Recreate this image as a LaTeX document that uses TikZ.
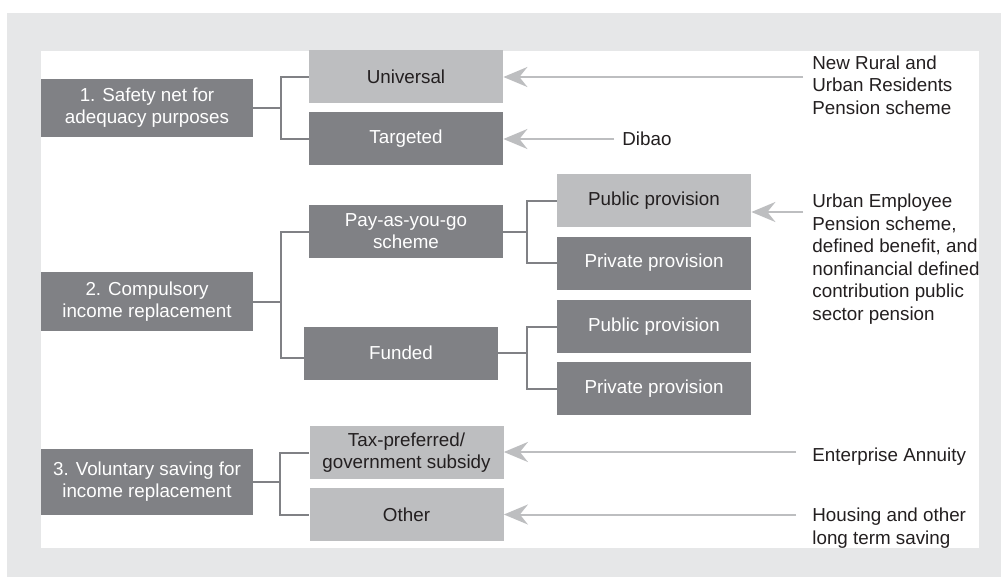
\documentclass[tikz,border=0pt]{standalone}
\usepackage{fontspec}
\setmainfont{Liberation Sans}
\usetikzlibrary{arrows.meta}
\definecolor{pnbg}{RGB}{230,231,232}
\definecolor{pndark}{RGB}{128,129,133}
\definecolor{pnlight}{RGB}{189,190,192}
\definecolor{pntext}{RGB}{35,31,32}
\tikzset{
  box/.style={inner sep=0pt, align=center, font=\fontsize{9.4}{11.1}\selectfont,
              minimum width=97pt, minimum height=26.5pt},
  dark/.style={box, fill=pndark, text=white},
  light/.style={box, fill=pnlight, text=pntext},
  pillar/.style={dark, minimum width=106pt, minimum height=29pt},
  link/.style={draw=pndark, line width=1pt},
  arr/.style={-{Stealth[length=12pt, width=10pt, inset=4pt]}, line width=1pt, draw=pnlight},
  lab/.style={anchor=base west, inner sep=0pt, align=left,
              font=\fontsize{9.4}{11.25}\selectfont, text=pntext}
}
\begin{document}
\begin{tikzpicture}[x=0.5pt, y=-0.5pt]
  \useasboundingbox (0,0) rectangle (1001,578);
  \fill[pnbg] (7,13) rectangle (1001,577);
  \fill[white] (41,51) rectangle (979,548);

  % pillars
  \node[pillar] (safety) at (147,108) {1. Safety net for\\adequacy purposes};
  \node[pillar, minimum height=29.5pt] (compul) at (147,301.5) {2. Compulsory\\income replacement};
  \node[pillar, minimum height=33pt] (volun) at (147,482) {3. Voluntary saving for\\income replacement};

  % second level
  \node[light] (univ) at (406,76.5) {Universal};
  \node[dark] (targ) at (406,138.5) {Targeted};
  \node[dark] (payg) at (406,231.5) {Pay-as-you-go\\scheme};
  \node[dark] (fund) at (401,353) {Funded};
  \node[light] (tax) at (406.5,452.5) {Tax-preferred/\\government subsidy};
  \node[light] (other) at (406.5,514.5) {Other};

  % third level
  \node[light] (pubA) at (654,200.5) {Public provision};
  \node[dark] (privA) at (654,263) {Private provision};
  \node[dark] (pubB) at (654,326.5) {Public provision};
  \node[dark] (privB) at (654,388.5) {Private provision};

  % tree links
  \draw[link] (safety.east) -- ++(28,0);
  \draw[link] (univ.west) -- ++(-28,0) |- (targ.west);
  \draw[link] (compul.east) -- ++(28,0);
  \draw[link] (payg.west) -- ++(-28,0) |- ([yshift=-2.25pt]fund.west);
  \draw[link] (payg.east) -- ++(24,0);
  \draw[link] (pubA.west) -- ++(-30,0) |- (privA.west);
  \draw[link] (fund.east) -- ++(29,0);
  \draw[link] (pubB.west) -- ++(-30,0) |- (privB.west);
  \draw[link] (volun.east) -- ++(28,0);
  \draw[link] (tax.west) -- ++(-29.5,0) |- (other.west);

  % examples (base = last line)
  \node[lab] (tUniv) at (812,114) {New Rural and\\Urban Residents\\Pension scheme};
  \node[lab] (tDibao) at (622,145.5) {Dibao};
  \node[lab] (tPub) at (812,320) {Urban Employee\\Pension scheme,\\defined benefit, and\\nonfinancial defined\\contribution public\\sector pension};
  \node[lab] (tTax) at (812,461.5) {Enterprise Annuity};
  \node[lab] (tOther) at (812,544) {Housing and other\\long term saving};

  \coordinate (aUniv) at (803,77);
  \coordinate (aDibao) at (614,139);
  \coordinate (aPub) at (803,212);
  \coordinate (aTax) at (796,452);
  \coordinate (aOther) at (796,514.5);
  \draw[arr] (aUniv) -- (aUniv -| univ.east);
  \draw[arr] (aDibao) -- (aDibao -| targ.east);
  \draw[arr] (aPub) -- (aPub -| pubA.east);
  \draw[arr] (aTax) -- (aTax -| tax.east);
  \draw[arr] (aOther) -- (aOther -| other.east);
\end{tikzpicture}
\end{document}
